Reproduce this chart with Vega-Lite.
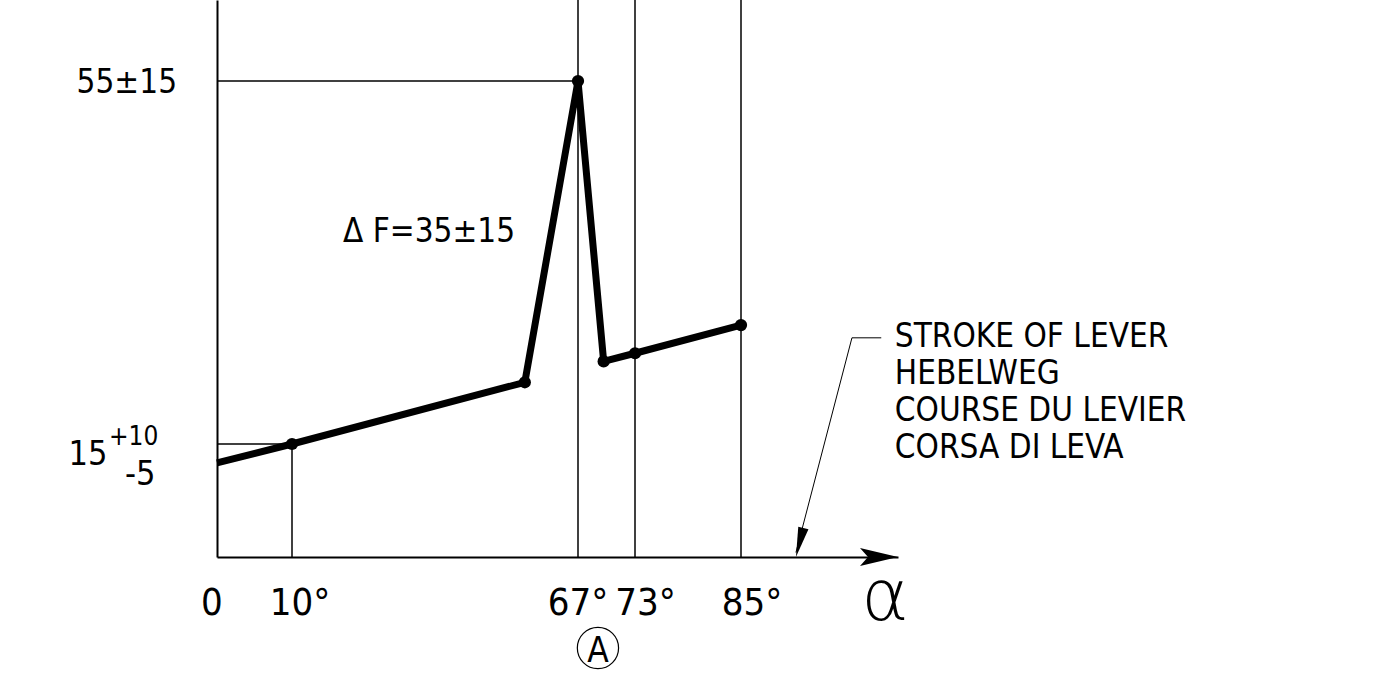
{
  "$schema": "https://vega.github.io/schema/vega-lite/v6.json",
  "autosize": {"type": "none"},
  "width": 681,
  "height": 557,
  "padding": {"left": 217, "top": 0, "right": 501, "bottom": 118},
  "background": "white",
  "config": {"view": {"stroke": null}, "font": "DejaVu Sans Condensed, sans-serif"},
  "datasets": {
    "curve": [
      {"x": 0, "y": 12.5},
      {"x": 10, "y": 15},
      {"x": 56.4, "y": 21.8},
      {"x": 67, "y": 55},
      {"x": 69.7, "y": 24.1},
      {"x": 73, "y": 25},
      {"x": 85, "y": 28.1}
    ],
    "dots": [
      {"x": 10, "y": 15},
      {"x": 56.4, "y": 21.8},
      {"x": 67, "y": 55},
      {"x": 69.7, "y": 24.1},
      {"x": 73, "y": 25},
      {"x": 85, "y": 28.1}
    ],
    "guides": [
      {"x": 10, "x2": 10, "y": 0, "y2": 15},
      {"x": 67, "x2": 67, "y": 0, "y2": 64},
      {"x": 73, "x2": 73, "y": 0, "y2": 64},
      {"x": 85, "x2": 85, "y": 0, "y2": 64},
      {"x": 0, "x2": 67, "y": 55, "y2": 55},
      {"x": 0, "x2": 10, "y": 15, "y2": 15}
    ],
    "leader": [
      {"x": 95.6, "x2": 98.4, "y": 26.7, "y2": 26.7},
      {"x": 95.6, "x2": 90.25, "y": 26.7, "y2": 0.6}
    ],
    "leaderTip": [{"x": 90.25, "y": 0}],
    "axisTip": [{"x": 100, "y": 0}],
    "xlab": [
      {"x": -0.67, "y": -7.7, "t": "0"},
      {"x": 11.6, "y": -7.7, "t": "10°"},
      {"x": 67, "y": -7.7, "t": "67°"},
      {"x": 74.2, "y": -7.7, "t": "73°"},
      {"x": 86.05, "y": -7.7, "t": "85°"}
    ],
    "ylab": [{"x": -5.33, "y": 53.68, "t": "55±15"}],
    "ymain": [{"x": -14.6, "y": 12.21, "t": "15"}],
    "ysup": [{"x": -14.4, "y": 14.87, "t": "+10"}],
    "ysub": [{"x": -12.27, "y": 9.56, "t": "-5"}],
    "delta": [{"x": 20.16, "y": 37.26, "t": "Δ F=35±15"}],
    "note": [{"x": 99.7, "y": 25.69, "t": ["STROKE OF LEVER", "HEBELWEG", "COURSE DU LEVIER", "CORSA DI LEVA"]}],
    "circleA": [{"x": 69.1, "y": -12.08}],
    "letterA": [{"x": 69.1, "y": -13.94, "t": "A"}],
    "alpha": [{"x": 98.75, "y": -8.36, "t": "α"}]
  },
  "encoding": {
    "x": {
      "field": "x", "type": "quantitative",
      "scale": {"domain": [0, 10, 67, 73, 85, 100], "range": [0, 75, 361, 418, 524, 681], "nice": false, "zero": false},
      "axis": {
        "values": [0], "title": null, "grid": false, "ticks": false, "tickSize": 0, "labels": false,
        "domain": true, "domainColor": "black", "domainWidth": 2
      }
    },
    "y": {
      "field": "y", "type": "quantitative",
      "scale": {"domain": [0, 15, 55, 64], "range": [557, 444, 81, 0], "nice": false, "zero": false},
      "axis": {"title": null, "grid": false, "ticks": false, "tickSize": 0, "labels": false, "domain": true, "domainColor": "black", "domainWidth": 2}
    }
  },
  "layer": [
    {
      "data": {"name": "guides"},
      "mark": {"type": "rule", "color": "black", "strokeWidth": 1.5},
      "encoding": {"x2": {"field": "x2"}, "y2": {"field": "y2"}}
    },
    {
      "data": {"name": "leader"},
      "mark": {"type": "rule", "color": "black", "strokeWidth": 1},
      "encoding": {"x2": {"field": "x2"}, "y2": {"field": "y2"}}
    },
    {
      "data": {"name": "leaderTip"},
      "mark": {"type": "point", "shape": "M0,0L-0.35,-2L0.35,-2Z", "size": 900, "filled": true, "color": "black", "opacity": 1, "angle": 14.3, "strokeWidth": 0},
      "encoding": {}
    },
    {
      "data": {"name": "axisTip"},
      "mark": {"type": "point", "shape": "M0,0L-38,-9L-30,0L-38,9Z", "size": 4, "filled": true, "color": "black", "opacity": 1, "strokeWidth": 0},
      "encoding": {}
    },
    {
      "data": {"name": "curve"},
      "mark": {"type": "line", "color": "black", "strokeWidth": 7, "strokeJoin": "round", "strokeCap": "butt"},
      "encoding": {"order": {"field": "x", "type": "quantitative"}}
    },
    {
      "data": {"name": "dots"},
      "mark": {"type": "point", "shape": "circle", "filled": true, "color": "black", "opacity": 1, "size": 150},
      "encoding": {}
    },
    {
      "data": {"name": "xlab"},
      "mark": {"type": "text", "align": "center", "baseline": "alphabetic", "fontSize": 38, "color": "black"},
      "encoding": {"text": {"field": "t"}}
    },
    {
      "data": {"name": "ylab"},
      "mark": {"type": "text", "align": "right", "baseline": "alphabetic", "fontSize": 33, "color": "black"},
      "encoding": {"text": {"field": "t"}}
    },
    {
      "data": {"name": "ymain"},
      "mark": {"type": "text", "align": "right", "baseline": "alphabetic", "fontSize": 34, "color": "black"},
      "encoding": {"text": {"field": "t"}}
    },
    {
      "data": {"name": "ysup"},
      "mark": {"type": "text", "align": "left", "baseline": "alphabetic", "fontSize": 26, "color": "black"},
      "encoding": {"text": {"field": "t"}}
    },
    {
      "data": {"name": "ysub"},
      "mark": {"type": "text", "align": "left", "baseline": "alphabetic", "fontSize": 34, "color": "black"},
      "encoding": {"text": {"field": "t"}}
    },
    {
      "data": {"name": "delta"},
      "mark": {"type": "text", "align": "left", "baseline": "alphabetic", "fontSize": 33, "color": "black"},
      "encoding": {"text": {"field": "t"}}
    },
    {
      "data": {"name": "note"},
      "mark": {"type": "text", "align": "left", "baseline": "alphabetic", "fontSize": 33, "lineHeight": 37, "color": "black"},
      "encoding": {"text": {"field": "t"}}
    },
    {
      "data": {"name": "circleA"},
      "mark": {"type": "point", "shape": "circle", "filled": false, "color": "black", "opacity": 1, "size": 1700, "strokeWidth": 1.2},
      "encoding": {}
    },
    {
      "data": {"name": "letterA"},
      "mark": {"type": "text", "align": "center", "baseline": "alphabetic", "fontSize": 35, "fontWeight": 500, "color": "black"},
      "encoding": {"text": {"field": "t"}}
    },
    {
      "data": {"name": "alpha"},
      "mark": {"type": "text", "align": "center", "baseline": "alphabetic", "fontSize": 72, "fontWeight": 200, "font": "DejaVu Sans Light, DejaVu Sans ExtraLight, DejaVu Sans", "color": "black"},
      "encoding": {"text": {"field": "t"}}
    }
  ]
}
